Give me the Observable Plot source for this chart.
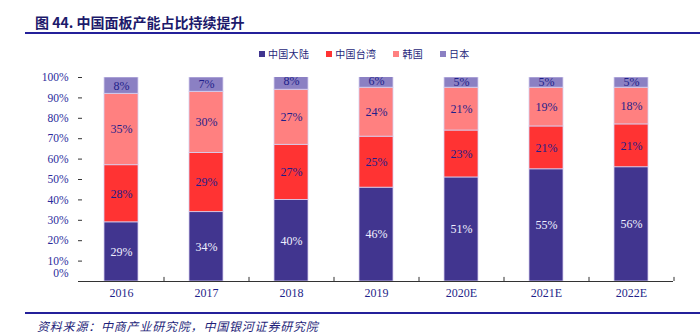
<!DOCTYPE html>
<html><head><meta charset="utf-8">
<script src="https://cdn.jsdelivr.net/npm/d3@7"></script>
<script src="https://cdn.jsdelivr.net/npm/@observablehq/plot@0.6"></script>
<style>
body{margin:0;background:#fff;}
#wrap{position:relative;width:700px;height:335px;overflow:hidden;}
#chart{position:absolute;left:0;top:0;}
#title{position:absolute;left:35px;top:12px;font:bold 14px "Noto Sans CJK SC",sans-serif;color:#1c1a6b;line-height:20px;white-space:nowrap;z-index:2;}
.hline{position:absolute;left:25px;width:675px;height:2px;background:#24209a;z-index:2;}
#legend{position:absolute;left:259px;top:46px;display:flex;align-items:center;gap:17px;z-index:2;}
.item{display:flex;align-items:center;font:10px "Noto Sans CJK SC",sans-serif;letter-spacing:0.3px;color:#1f1f7a;line-height:16px;}
.sw{width:6px;height:6px;margin-right:3px;}
#source{position:absolute;left:37px;top:318px;font:italic 12px "Noto Sans CJK SC",sans-serif;letter-spacing:0.8px;color:#1f1f7a;line-height:16px;white-space:nowrap;z-index:2;}
</style>
</head><body>
<div id="wrap">
  <div id="chart"></div>
  <div id="title">图 44. 中国面板产能占比持续提升</div>
  <div class="hline" style="top:32px"></div>
  <div id="legend"></div>
  <div class="hline" style="top:312px"></div>
  <div id="source">资料来源：中商产业研究院，中国银河证券研究院</div>
</div>
<script>
const years = ["2016","2017","2018","2019","2020E","2021E","2022E"];
const series = ["中国大陆","中国台湾","韩国","日本"];
const mainland = [29,34,40,46,51,55,56];
const taiwan = [28,29,27,25,23,21,21];
const korea = [35,30,27,24,21,19,18];
const japan = [8,7,8,6,5,5,5];
const colors = ["#41358f","#ff3333","#ff8080","#8b80c3"];
const yTicks = [0,10,20,30,40,50,60,70,80,90,100];

const seriesValues = [mainland, taiwan, korea, japan];
const rows = [];
years.forEach((y, i) => series.forEach((s, j) => rows.push({year: y, series: s, value: seriesValues[j][i]})));

// legend
const lg = document.getElementById("legend");
series.forEach((s, j) => {
  const it = document.createElement("div"); it.className = "item";
  const sw = document.createElement("span"); sw.className = "sw"; sw.style.background = colors[j];
  const tx = document.createElement("span"); tx.textContent = s;
  it.append(sw, tx); lg.append(it);
});

const navy = "#1f1f8a";
const chart = Plot.plot({
  width: 700, height: 335,
  marginTop: 77, marginBottom: 54, marginLeft: 78, marginRight: 27,
  style: {fontFamily: "Liberation Serif, serif", fontSize: "12px", background: "transparent"},
  x: {domain: years, paddingInner: 0.6, paddingOuter: 0.3, axis: null},
  y: {domain: [0, 100], axis: null},
  color: {domain: series, range: colors},
  marks: [
    Plot.barY(rows, Plot.stackY({x: "year", y: "value", z: "series", fill: "series", order: series, stroke: "#d6d0f0", strokeWidth: 0.8, clip: true})),
    Plot.text(rows, Plot.stackY({x: "year", y: "value", z: "series", order: series, text: d => d.series === series[0] ? "" : d.value + "%", fill: navy, fontSize: 12})),
    Plot.text(rows, Plot.stackY({filter: d => d.series === series[0], x: "year", y: "value", z: "series", order: series, text: d => d.value + "%", fill: "#f0f0ff", fontSize: 12})),
    Plot.ruleY([0], {stroke: "#333", strokeWidth: 1.2}),
    Plot.ruleX(years, {x: d => d, dx: 42.5, y1: 0, y2: 2, stroke: "#333"}),
    Plot.axisY({ticks: yTicks, tickSize: -4, tickFormat: () => "", label: null, line: true, stroke: "#333"}),
    Plot.text(yTicks.filter(d => d > 0), {y: d => d, text: d => d + "%", frameAnchor: "left", textAnchor: "end", dx: -10, fill: "#2b2b9c", fontSize: 11.5}),
    Plot.text([0], {y: d => d, text: d => d + "%", frameAnchor: "left", textAnchor: "end", dx: -10, dy: -8, fill: "#2b2b9c", fontSize: 11.5}),
    Plot.text(years, {x: d => d, text: d => d, frameAnchor: "bottom", dy: 15, fill: navy, fontSize: 12})
  ]
});
document.getElementById("chart").append(chart);
</script>
</body></html>
